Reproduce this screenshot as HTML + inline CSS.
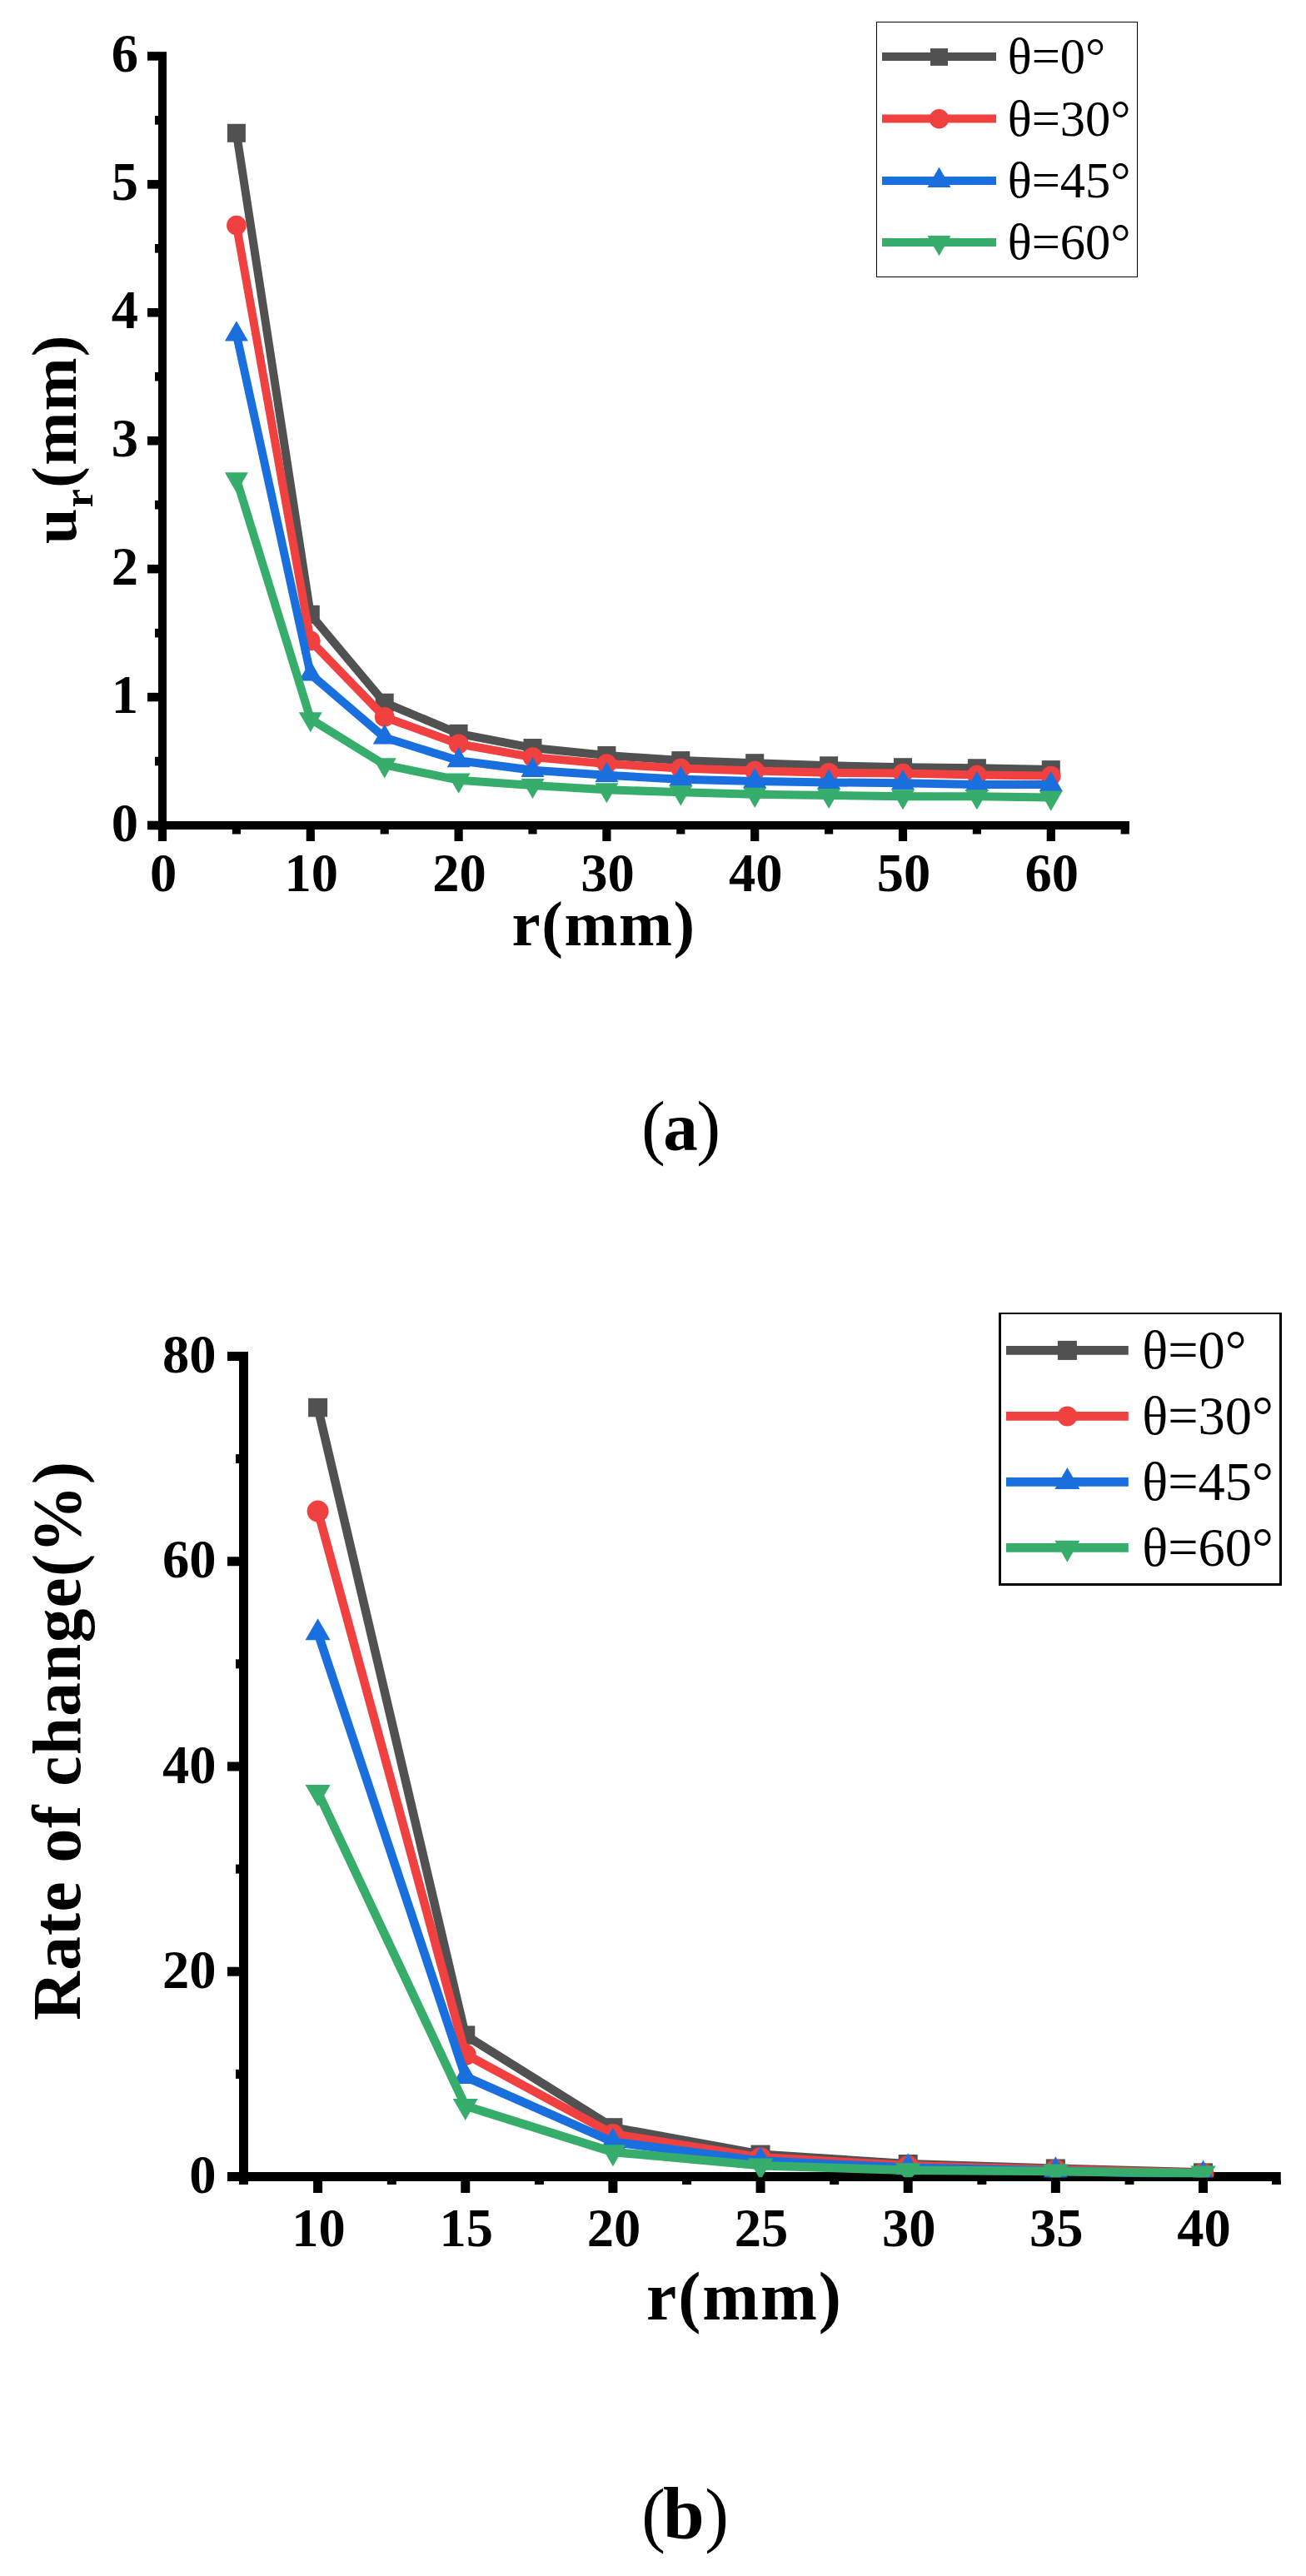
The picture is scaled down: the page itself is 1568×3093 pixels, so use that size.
<!DOCTYPE html>
<html><head><meta charset="utf-8"><title>Figure</title>
<style>
html,body{margin:0;padding:0;background:#fff;}
svg{display:block}
text{fill:#000}
</style></head>
<body>
<svg width="1568" height="3093" viewBox="0 0 1568 3093">
<defs><clipPath id="clipB"><rect x="0" y="1500" width="1568" height="1114.1999999999998"/></clipPath></defs>
<rect width="1568" height="3093" fill="#fff"/>
<g id="panelA">
<rect x="190" y="62.2" width="10" height="947.8" fill="#000"/>
<rect x="177" y="986" width="1179" height="10" fill="#000"/>
<rect x="177" y="985.75" width="14" height="10.5" fill="#000"/>
<text x="165.9" y="1009.90" text-anchor="end" font-size="64.5" font-weight="bold" font-family='"Liberation Serif", serif'>0</text>
<rect x="177" y="831.82" width="14" height="10.5" fill="#000"/>
<text x="165.9" y="855.97" text-anchor="end" font-size="64.5" font-weight="bold" font-family='"Liberation Serif", serif'>1</text>
<rect x="177" y="677.89" width="14" height="10.5" fill="#000"/>
<text x="165.9" y="702.04" text-anchor="end" font-size="64.5" font-weight="bold" font-family='"Liberation Serif", serif'>2</text>
<rect x="177" y="523.96" width="14" height="10.5" fill="#000"/>
<text x="165.9" y="548.11" text-anchor="end" font-size="64.5" font-weight="bold" font-family='"Liberation Serif", serif'>3</text>
<rect x="177" y="370.03" width="14" height="10.5" fill="#000"/>
<text x="165.9" y="394.18" text-anchor="end" font-size="64.5" font-weight="bold" font-family='"Liberation Serif", serif'>4</text>
<rect x="177" y="216.10" width="14" height="10.5" fill="#000"/>
<text x="165.9" y="240.25" text-anchor="end" font-size="64.5" font-weight="bold" font-family='"Liberation Serif", serif'>5</text>
<rect x="177" y="62.17" width="14" height="10.5" fill="#000"/>
<text x="165.9" y="86.32" text-anchor="end" font-size="64.5" font-weight="bold" font-family='"Liberation Serif", serif'>6</text>
<rect x="186" y="908.74" width="5" height="10.6" fill="#000"/>
<rect x="186" y="754.81" width="5" height="10.6" fill="#000"/>
<rect x="186" y="600.88" width="5" height="10.6" fill="#000"/>
<rect x="186" y="446.94" width="5" height="10.6" fill="#000"/>
<rect x="186" y="293.01" width="5" height="10.6" fill="#000"/>
<rect x="186" y="139.08" width="5" height="10.6" fill="#000"/>
<rect x="189.90" y="995" width="10.2" height="15" fill="#000"/>
<text x="196.00" y="1070" text-anchor="middle" font-size="64.5" font-weight="bold" font-family='"Liberation Serif", serif'>0</text>
<rect x="367.70" y="995" width="10.2" height="15" fill="#000"/>
<text x="373.80" y="1070" text-anchor="middle" font-size="64.5" font-weight="bold" font-family='"Liberation Serif", serif'>10</text>
<rect x="545.50" y="995" width="10.2" height="15" fill="#000"/>
<text x="551.60" y="1070" text-anchor="middle" font-size="64.5" font-weight="bold" font-family='"Liberation Serif", serif'>20</text>
<rect x="723.30" y="995" width="10.2" height="15" fill="#000"/>
<text x="729.40" y="1070" text-anchor="middle" font-size="64.5" font-weight="bold" font-family='"Liberation Serif", serif'>30</text>
<rect x="901.10" y="995" width="10.2" height="15" fill="#000"/>
<text x="907.20" y="1070" text-anchor="middle" font-size="64.5" font-weight="bold" font-family='"Liberation Serif", serif'>40</text>
<rect x="1078.90" y="995" width="10.2" height="15" fill="#000"/>
<text x="1085.00" y="1070" text-anchor="middle" font-size="64.5" font-weight="bold" font-family='"Liberation Serif", serif'>50</text>
<rect x="1256.70" y="995" width="10.2" height="15" fill="#000"/>
<text x="1262.80" y="1070" text-anchor="middle" font-size="64.5" font-weight="bold" font-family='"Liberation Serif", serif'>60</text>
<rect x="278.80" y="995" width="10.2" height="6.5" fill="#000"/>
<rect x="456.60" y="995" width="10.2" height="6.5" fill="#000"/>
<rect x="634.40" y="995" width="10.2" height="6.5" fill="#000"/>
<rect x="812.20" y="995" width="10.2" height="6.5" fill="#000"/>
<rect x="990.00" y="995" width="10.2" height="6.5" fill="#000"/>
<rect x="1167.80" y="995" width="10.2" height="6.5" fill="#000"/>
<rect x="1345.60" y="995" width="10.2" height="6.5" fill="#000"/>
<polyline points="283.90,159.78 372.80,737.79 461.70,843.69 550.60,880.79 639.50,898.03 728.40,906.95 817.30,913.11 906.20,916.19 995.10,919.27 1084.00,921.19 1172.90,922.27 1261.80,924.12" fill="none" stroke="#515151" stroke-width="10" stroke-linejoin="round"/>
<rect x="272.90" y="148.78" width="22.00" height="22.00" fill="#515151"/>
<rect x="361.80" y="726.79" width="22.00" height="22.00" fill="#515151"/>
<rect x="450.70" y="832.69" width="22.00" height="22.00" fill="#515151"/>
<rect x="539.60" y="869.79" width="22.00" height="22.00" fill="#515151"/>
<rect x="628.50" y="887.03" width="22.00" height="22.00" fill="#515151"/>
<rect x="717.40" y="895.95" width="22.00" height="22.00" fill="#515151"/>
<rect x="806.30" y="902.11" width="22.00" height="22.00" fill="#515151"/>
<rect x="895.20" y="905.19" width="22.00" height="22.00" fill="#515151"/>
<rect x="984.10" y="908.27" width="22.00" height="22.00" fill="#515151"/>
<rect x="1073.00" y="910.19" width="22.00" height="22.00" fill="#515151"/>
<rect x="1161.90" y="911.27" width="22.00" height="22.00" fill="#515151"/>
<rect x="1250.80" y="913.12" width="22.00" height="22.00" fill="#515151"/>
<polyline points="283.90,270.61 372.80,769.34 461.70,860.93 550.60,893.25 639.50,909.11 728.40,917.11 817.30,922.50 906.20,925.58 995.10,927.73 1084.00,928.58 1172.90,930.58 1261.80,931.51" fill="none" stroke="#F14040" stroke-width="10" stroke-linejoin="round"/>
<circle cx="283.90" cy="270.61" r="11.85" fill="#F14040"/>
<circle cx="372.80" cy="769.34" r="11.85" fill="#F14040"/>
<circle cx="461.70" cy="860.93" r="11.85" fill="#F14040"/>
<circle cx="550.60" cy="893.25" r="11.85" fill="#F14040"/>
<circle cx="639.50" cy="909.11" r="11.85" fill="#F14040"/>
<circle cx="728.40" cy="917.11" r="11.85" fill="#F14040"/>
<circle cx="817.30" cy="922.50" r="11.85" fill="#F14040"/>
<circle cx="906.20" cy="925.58" r="11.85" fill="#F14040"/>
<circle cx="995.10" cy="927.73" r="11.85" fill="#F14040"/>
<circle cx="1084.00" cy="928.58" r="11.85" fill="#F14040"/>
<circle cx="1172.90" cy="930.58" r="11.85" fill="#F14040"/>
<circle cx="1261.80" cy="931.51" r="11.85" fill="#F14040"/>
<polyline points="283.90,401.45 372.80,809.36 461.70,885.56 550.60,913.27 639.50,924.81 728.40,930.81 817.30,935.74 906.20,938.05 995.10,939.43 1084.00,940.20 1172.90,942.05 1261.80,942.05" fill="none" stroke="#1A6FDF" stroke-width="10" stroke-linejoin="round"/>
<polygon points="283.90,385.31 269.90,409.51 297.90,409.51" fill="#1A6FDF"/>
<polygon points="372.80,793.23 358.80,817.43 386.80,817.43" fill="#1A6FDF"/>
<polygon points="461.70,869.42 447.70,893.62 475.70,893.62" fill="#1A6FDF"/>
<polygon points="550.60,897.13 536.60,921.33 564.60,921.33" fill="#1A6FDF"/>
<polygon points="639.50,908.68 625.50,932.88 653.50,932.88" fill="#1A6FDF"/>
<polygon points="728.40,914.68 714.40,938.88 742.40,938.88" fill="#1A6FDF"/>
<polygon points="817.30,919.61 803.30,943.81 831.30,943.81" fill="#1A6FDF"/>
<polygon points="906.20,921.91 892.20,946.11 920.20,946.11" fill="#1A6FDF"/>
<polygon points="995.10,923.30 981.10,947.50 1009.10,947.50" fill="#1A6FDF"/>
<polygon points="1084.00,924.07 1070.00,948.27 1098.00,948.27" fill="#1A6FDF"/>
<polygon points="1172.90,925.92 1158.90,950.12 1186.90,950.12" fill="#1A6FDF"/>
<polygon points="1261.80,925.92 1247.80,950.12 1275.80,950.12" fill="#1A6FDF"/>
<polyline points="283.90,575.39 372.80,863.24 461.70,918.35 550.60,936.66 639.50,942.97 728.40,948.21 817.30,951.29 906.20,953.75 995.10,954.98 1084.00,956.21 1172.90,956.21 1261.80,957.60" fill="none" stroke="#37AD6B" stroke-width="10" stroke-linejoin="round"/>
<polygon points="283.90,591.52 269.90,567.32 297.90,567.32" fill="#37AD6B"/>
<polygon points="372.80,879.37 358.80,855.17 386.80,855.17" fill="#37AD6B"/>
<polygon points="461.70,934.48 447.70,910.28 475.70,910.28" fill="#37AD6B"/>
<polygon points="550.60,952.80 536.60,928.60 564.60,928.60" fill="#37AD6B"/>
<polygon points="639.50,959.11 625.50,934.91 653.50,934.91" fill="#37AD6B"/>
<polygon points="728.40,964.34 714.40,940.14 742.40,940.14" fill="#37AD6B"/>
<polygon points="817.30,967.42 803.30,943.22 831.30,943.22" fill="#37AD6B"/>
<polygon points="906.20,969.88 892.20,945.68 920.20,945.68" fill="#37AD6B"/>
<polygon points="995.10,971.11 981.10,946.91 1009.10,946.91" fill="#37AD6B"/>
<polygon points="1084.00,972.35 1070.00,948.15 1098.00,948.15" fill="#37AD6B"/>
<polygon points="1172.90,972.35 1158.90,948.15 1186.90,948.15" fill="#37AD6B"/>
<polygon points="1261.80,973.73 1247.80,949.53 1275.80,949.53" fill="#37AD6B"/>
<rect x="1052" y="26" width="314" height="307" fill="#000"/>
<rect x="1053" y="27" width="312" height="305" fill="#fff"/>
<line x1="1059" y1="68" x2="1196" y2="68" stroke="#515151" stroke-width="10"/>
<rect x="1117.00" y="58.10" width="21.00" height="20.80" fill="#515151"/>
<text x="1209.7" y="88.2" font-size="60.5" font-family='"Liberation Serif", serif' fill="#000">θ=0°</text>
<line x1="1059" y1="142.4" x2="1196" y2="142.4" stroke="#F14040" stroke-width="10"/>
<circle cx="1127.50" cy="142.70" r="11.75" fill="#F14040"/>
<text x="1209.7" y="162.6" font-size="60.5" font-family='"Liberation Serif", serif' fill="#000">θ=30°</text>
<line x1="1059" y1="216.9" x2="1196" y2="216.9" stroke="#1A6FDF" stroke-width="10"/>
<polygon points="1127.50,200.77 1113.50,224.97 1141.50,224.97" fill="#1A6FDF"/>
<text x="1209.7" y="236.9" font-size="60.5" font-family='"Liberation Serif", serif' fill="#000">θ=45°</text>
<line x1="1059" y1="291.05" x2="1196" y2="291.05" stroke="#37AD6B" stroke-width="10"/>
<polygon points="1127.50,307.18 1113.50,282.98 1141.50,282.98" fill="#37AD6B"/>
<text x="1209.7" y="311.1" font-size="60.5" font-family='"Liberation Serif", serif' fill="#000">θ=60°</text>
<text x="614.6" y="1134.8" font-size="76.8" letter-spacing="1.6" font-weight="bold" font-family='"Liberation Serif", serif'>r(mm)</text>
<text transform="translate(91,653.2) rotate(-90)" font-size="76.8" letter-spacing="1.3" font-weight="bold" font-family='"Liberation Serif", serif'>u<tspan font-size="50" dy="20">r</tspan><tspan dy="-20">(mm)</tspan></text>
<text y="1381.5" font-family='"Liberation Serif", serif'><tspan x="770.1" font-size="86.7">(</tspan><tspan x="796.3" y="1381" font-size="83" font-weight="bold">a</tspan><tspan x="836.2" y="1381.5" font-size="86.7">)</tspan></text>
</g>
<g id="panelB">
<rect x="287" y="1623" width="11" height="1000" fill="#000"/>
<rect x="273" y="2608" width="1264.7" height="11" fill="#000"/>
<rect x="273" y="2608.00" width="15" height="11" fill="#000"/>
<text x="259.5" y="2633.00" text-anchor="end" font-size="64.5" font-weight="bold" font-family='"Liberation Serif", serif'>0</text>
<rect x="273" y="2361.75" width="15" height="11" fill="#000"/>
<text x="259.5" y="2386.75" text-anchor="end" font-size="64.5" font-weight="bold" font-family='"Liberation Serif", serif'>20</text>
<rect x="273" y="2115.50" width="15" height="11" fill="#000"/>
<text x="259.5" y="2140.50" text-anchor="end" font-size="64.5" font-weight="bold" font-family='"Liberation Serif", serif'>40</text>
<rect x="273" y="1869.25" width="15" height="11" fill="#000"/>
<text x="259.5" y="1894.25" text-anchor="end" font-size="64.5" font-weight="bold" font-family='"Liberation Serif", serif'>60</text>
<rect x="273" y="1623.00" width="15" height="11" fill="#000"/>
<text x="259.5" y="1648.00" text-anchor="end" font-size="64.5" font-weight="bold" font-family='"Liberation Serif", serif'>80</text>
<rect x="283" y="2484.88" width="5" height="11" fill="#000"/>
<rect x="283" y="2238.62" width="5" height="11" fill="#000"/>
<rect x="283" y="1992.38" width="5" height="11" fill="#000"/>
<rect x="283" y="1746.12" width="5" height="11" fill="#000"/>
<rect x="376.10" y="2618" width="11" height="15" fill="#000"/>
<text x="382.60" y="2696.7" text-anchor="middle" font-size="64.5" font-weight="bold" font-family='"Liberation Serif", serif'>10</text>
<rect x="553.25" y="2618" width="11" height="15" fill="#000"/>
<text x="559.75" y="2696.7" text-anchor="middle" font-size="64.5" font-weight="bold" font-family='"Liberation Serif", serif'>15</text>
<rect x="730.40" y="2618" width="11" height="15" fill="#000"/>
<text x="736.90" y="2696.7" text-anchor="middle" font-size="64.5" font-weight="bold" font-family='"Liberation Serif", serif'>20</text>
<rect x="907.55" y="2618" width="11" height="15" fill="#000"/>
<text x="914.05" y="2696.7" text-anchor="middle" font-size="64.5" font-weight="bold" font-family='"Liberation Serif", serif'>25</text>
<rect x="1084.70" y="2618" width="11" height="15" fill="#000"/>
<text x="1091.20" y="2696.7" text-anchor="middle" font-size="64.5" font-weight="bold" font-family='"Liberation Serif", serif'>30</text>
<rect x="1261.85" y="2618" width="11" height="15" fill="#000"/>
<text x="1268.35" y="2696.7" text-anchor="middle" font-size="64.5" font-weight="bold" font-family='"Liberation Serif", serif'>35</text>
<rect x="1439.00" y="2618" width="11" height="15" fill="#000"/>
<text x="1445.50" y="2696.7" text-anchor="middle" font-size="64.5" font-weight="bold" font-family='"Liberation Serif", serif'>40</text>
<rect x="464.78" y="2618" width="11" height="5" fill="#000"/>
<rect x="641.93" y="2618" width="11" height="5" fill="#000"/>
<rect x="819.08" y="2618" width="11" height="5" fill="#000"/>
<rect x="996.23" y="2618" width="11" height="5" fill="#000"/>
<rect x="1173.38" y="2618" width="11" height="5" fill="#000"/>
<rect x="1350.53" y="2618" width="11" height="5" fill="#000"/>
<rect x="1526.97" y="2618" width="11" height="5" fill="#000"/>
<g clip-path="url(#clipB)">
<polyline points="381.60,1690.06 558.75,2443.59 735.90,2554.40 913.05,2586.78 1090.20,2598.23 1267.35,2603.65 1444.50,2608.57" fill="none" stroke="#515151" stroke-width="10.5" stroke-linejoin="round"/>
<rect x="370.10" y="1678.86" width="23.00" height="22.40" fill="#515151"/>
<rect x="547.25" y="2432.39" width="23.00" height="22.40" fill="#515151"/>
<rect x="724.40" y="2543.20" width="23.00" height="22.40" fill="#515151"/>
<rect x="901.55" y="2575.58" width="23.00" height="22.40" fill="#515151"/>
<rect x="1078.70" y="2587.03" width="23.00" height="22.40" fill="#515151"/>
<rect x="1255.85" y="2592.45" width="23.00" height="22.40" fill="#515151"/>
<rect x="1433.00" y="2597.38" width="23.00" height="22.40" fill="#515151"/>
<polyline points="381.60,1813.80 558.75,2466.36 735.90,2562.32 913.05,2590.36 1090.20,2600.28 1267.35,2604.97 1444.50,2609.23" fill="none" stroke="#F14040" stroke-width="10.5" stroke-linejoin="round"/>
<circle cx="381.60" cy="1814.60" r="13.00" fill="#F14040"/>
<circle cx="558.75" cy="2467.16" r="13.00" fill="#F14040"/>
<circle cx="735.90" cy="2563.12" r="13.00" fill="#F14040"/>
<circle cx="913.05" cy="2591.16" r="13.00" fill="#F14040"/>
<circle cx="1090.20" cy="2601.08" r="13.00" fill="#F14040"/>
<circle cx="1267.35" cy="2605.77" r="13.00" fill="#F14040"/>
<circle cx="1444.50" cy="2610.03" r="13.00" fill="#F14040"/>
<polyline points="381.60,1960.54 558.75,2493.35 735.90,2571.71 913.05,2594.61 1090.20,2602.70 1267.35,2606.54 1444.50,2611.00" fill="none" stroke="#1A6FDF" stroke-width="10.5" stroke-linejoin="round"/>
<polygon points="381.60,1943.20 366.55,1969.20 396.65,1969.20" fill="#1A6FDF"/>
<polygon points="558.75,2476.02 543.70,2502.02 573.80,2502.02" fill="#1A6FDF"/>
<polygon points="735.90,2554.38 720.85,2580.38 750.95,2580.38" fill="#1A6FDF"/>
<polygon points="913.05,2577.27 898.00,2603.27 928.10,2603.27" fill="#1A6FDF"/>
<polygon points="1090.20,2585.37 1075.15,2611.37 1105.25,2611.37" fill="#1A6FDF"/>
<polygon points="1267.35,2589.20 1252.30,2615.20 1282.40,2615.20" fill="#1A6FDF"/>
<polygon points="1444.50,2593.67 1429.45,2619.67 1459.55,2619.67" fill="#1A6FDF"/>
<polyline points="381.60,2151.78 558.75,2528.54 735.90,2583.95 913.05,2600.14 1090.20,2605.87 1267.35,2607.10 1444.50,2609.19" fill="none" stroke="#37AD6B" stroke-width="10.5" stroke-linejoin="round"/>
<polygon points="381.60,2169.11 366.55,2143.11 396.65,2143.11" fill="#37AD6B"/>
<polygon points="558.75,2545.88 543.70,2519.88 573.80,2519.88" fill="#37AD6B"/>
<polygon points="735.90,2601.28 720.85,2575.28 750.95,2575.28" fill="#37AD6B"/>
<polygon points="913.05,2617.47 898.00,2591.47 928.10,2591.47" fill="#37AD6B"/>
<polygon points="1090.20,2623.20 1075.15,2597.20 1105.25,2597.20" fill="#37AD6B"/>
<polygon points="1267.35,2624.43 1252.30,2598.43 1282.40,2598.43" fill="#37AD6B"/>
<polygon points="1444.50,2626.52 1429.45,2600.52 1459.55,2600.52" fill="#37AD6B"/>
</g>
<rect x="1199" y="1576" width="340" height="328" fill="#000"/>
<rect x="1202" y="1578" width="334" height="323" fill="#fff"/>
<line x1="1208" y1="1621.4" x2="1354.8" y2="1621.4" stroke="#515151" stroke-width="10.6"/>
<rect x="1269.90" y="1609.90" width="23.00" height="23.00" fill="#515151"/>
<text x="1371.3" y="1643.2" font-size="64.5" font-family='"Liberation Serif", serif' fill="#000">θ=0°</text>
<line x1="1208" y1="1700.4" x2="1354.8" y2="1700.4" stroke="#F14040" stroke-width="10.6"/>
<circle cx="1281.40" cy="1700.40" r="12.00" fill="#F14040"/>
<text x="1371.3" y="1722.3" font-size="64.5" font-family='"Liberation Serif", serif' fill="#000">θ=30°</text>
<line x1="1208" y1="1779.4" x2="1354.8" y2="1779.4" stroke="#1A6FDF" stroke-width="10.6"/>
<polygon points="1281.40,1762.07 1266.35,1788.07 1296.45,1788.07" fill="#1A6FDF"/>
<text x="1371.3" y="1801" font-size="64.5" font-family='"Liberation Serif", serif' fill="#000">θ=45°</text>
<line x1="1208" y1="1858.4" x2="1354.8" y2="1858.4" stroke="#37AD6B" stroke-width="10.6"/>
<polygon points="1281.40,1875.73 1266.35,1849.73 1296.45,1849.73" fill="#37AD6B"/>
<text x="1371.3" y="1880" font-size="64.5" font-family='"Liberation Serif", serif' fill="#000">θ=60°</text>
<text x="776.1" y="2784.5" font-size="81.5" letter-spacing="1.9" font-weight="bold" font-family='"Liberation Serif", serif'>r(mm)</text>
<text transform="translate(95.7,2425.9) rotate(-90)" font-size="81.5" letter-spacing="1.2" font-weight="bold" font-family='"Liberation Serif", serif'>Rate of change(%)</text>
<text y="3047.5" font-family='"Liberation Serif", serif'><tspan x="770.2" font-size="86">(</tspan><tspan x="796.1" y="3047.6" font-size="89.3" font-weight="bold">b</tspan><tspan x="846.2" y="3047.5" font-size="86">)</tspan></text>
</g>
</svg>
</body></html>
